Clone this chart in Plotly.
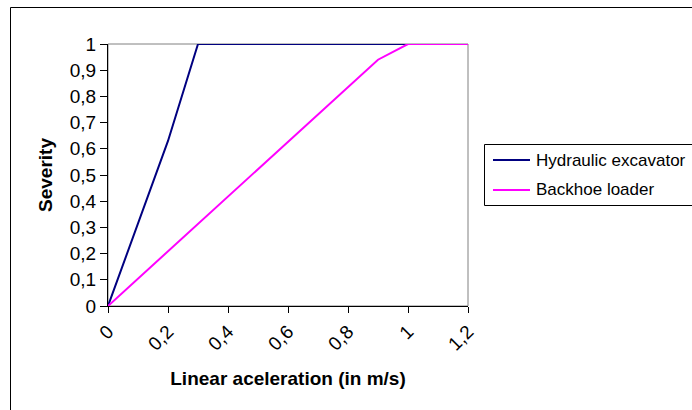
import plotly.graph_objects as go

# Data
exc_x = [0, 0.2, 0.3, 1.2]
exc_y = [0, 0.63, 1, 1]
bh_x = [0, 0.9, 1.0, 1.2]
bh_y = [0, 0.94, 1, 1]

series_names = ["Hydraulic excavator", "Backhoe loader"]
series_colors = ["#000080", "#FF00FF"]

x_ticks = [0, 0.2, 0.4, 0.6, 0.8, 1.0, 1.2]
x_labels = ["0", "0,2", "0,4", "0,6", "0,8", "1", "1,2"]
y_ticks = [0, 0.1, 0.2, 0.3, 0.4, 0.5, 0.6, 0.7, 0.8, 0.9, 1.0]
y_labels = ["0", "0,1", "0,2", "0,3", "0,4", "0,5", "0,6", "0,7", "0,8", "0,9", "1"]

W, H = 692, 410
L, R, T, B = 108, 468, 44, 306
pw, ph = R - L, B - T

def px(x):
    return (x - L) / pw

def py(y):
    return (B - y) / ph

FONT = "Liberation Sans, Arial, sans-serif"

fig = go.Figure()
for xs, ys, name, col in [(exc_x, exc_y, series_names[0], series_colors[0]),
                          (bh_x, bh_y, series_names[1], series_colors[1])]:
    fig.add_trace(go.Scatter(x=xs, y=ys, mode="lines", name=name,
                             line=dict(color=col, width=2), showlegend=False))

shapes = [
    # plot area border (gray)
    dict(type="rect", xref="paper", yref="paper", x0=0, y0=0, x1=1, y1=1,
         line=dict(color="#808080", width=1), layer="below"),
    # outer frame (left and top visible)
    dict(type="line", xref="paper", yref="paper", x0=px(10.5), y0=py(7.5), x1=px(10.5), y1=py(420),
         line=dict(color="black", width=1)),
    dict(type="line", xref="paper", yref="paper", x0=px(10.5), y0=py(7.5), x1=px(700), y1=py(7.5),
         line=dict(color="black", width=1)),
    # legend box
    dict(type="rect", xref="paper", yref="paper", x0=px(484.5), y0=py(144.5), x1=px(700), y1=py(205.5),
         line=dict(color="black", width=1)),
]
annotations = []
for i, (name, col) in enumerate(zip(series_names, series_colors)):
    yc = 160 + 30 * i
    shapes.append(dict(type="line", xref="paper", yref="paper", x0=px(493), x1=px(530),
                       y0=py(yc), y1=py(yc), line=dict(color=col, width=2)))
    annotations.append(dict(xref="paper", yref="paper", x=px(534), y=py(yc), text=name,
                            showarrow=False, xanchor="left", yanchor="middle",
                            font=dict(size=17, family=FONT, color="black")))

fig.update_layout(
    width=W, height=H,
    margin=dict(l=L, r=W - R, t=T, b=H - B, pad=0),
    paper_bgcolor="white", plot_bgcolor="white",
    font=dict(family=FONT, size=19, color="black"),
    showlegend=False,
    shapes=shapes,
    annotations=annotations,
    xaxis=dict(range=[0, 1.2], tickvals=x_ticks, ticktext=x_labels, tickangle=-45,
               showgrid=False, zeroline=False, showline=True, linecolor="black", linewidth=1,
               ticks="outside", ticklen=6, tickcolor="black",
               title=dict(text="<b>Linear aceleration (in m/s)</b>", font=dict(size=19), standoff=18)),
    yaxis=dict(range=[0, 1], tickvals=y_ticks, ticktext=y_labels,
               showgrid=False, zeroline=False, showline=True, linecolor="black", linewidth=1,
               ticks="outside", ticklen=7, tickcolor="black",
               title=dict(text="<b>Severity</b>", font=dict(size=19), standoff=12)),
)

fig.write_html("out.html")
